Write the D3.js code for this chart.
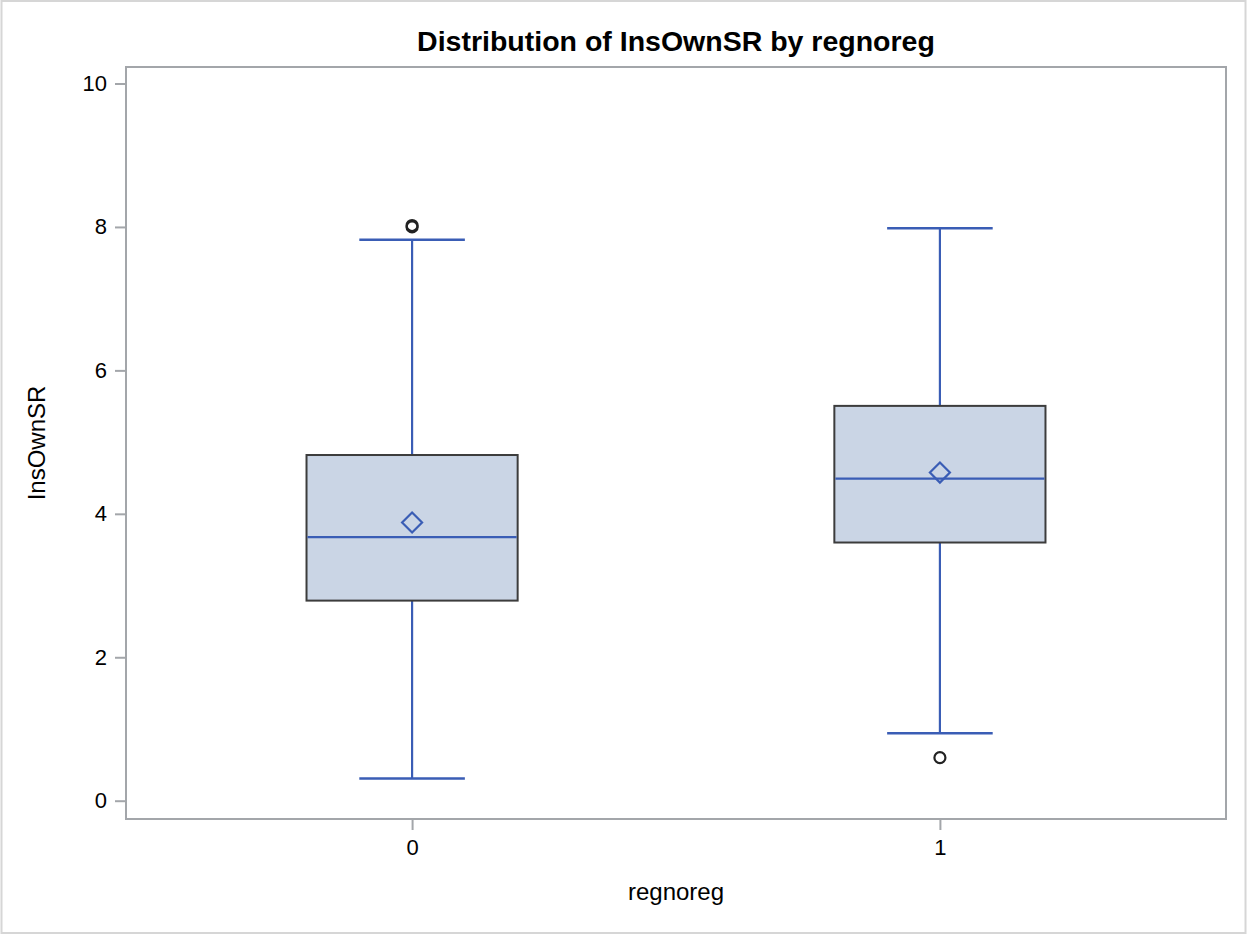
<!DOCTYPE html>
<html>
<head>
<meta charset="utf-8">
<script src="https://cdn.jsdelivr.net/npm/d3@7"></script>
<style>
  body { margin: 0; background: #fff; }
  text { font-family: "Liberation Sans", Arial, sans-serif; fill: #000; }
</style>
</head>
<body>
<script>
// box plot summary per group
const groups = ['0', '1']
const whiskerLow = [0.31, 0.94]
const q1 = [2.79, 3.60]
const median = [3.675, 4.49]
const mean = [3.88, 4.575]
const q3 = [4.82, 5.505]
const whiskerHigh = [7.82, 7.98]
const outliers = [[8.0, 8.02], [0.6]]
const yTicks = [0, 2, 4, 6, 8, 10]

const width = 1247
const height = 934
const margin = {top: 67, right: 21, bottom: 115, left: 126}

const lineBlue = '#3a5db5'
const axisGray = '#a3a6aa'

const rows = groups.map((g, i) => ({
  g, lo: whiskerLow[i], q1: q1[i], med: median[i], mean: mean[i],
  q3: q3[i], hi: whiskerHigh[i], out: outliers[i],
}))

const svg = d3.select('body').append('svg')
  .attr('width', width).attr('height', height)

// outer frame of the picture
svg.append('rect')
  .attr('x', 1.5).attr('y', 1).attr('width', width - 3).attr('height', height - 2)
  .attr('fill', 'none').attr('stroke', '#d6d6d6').attr('stroke-width', 2)

const x = d3.scalePoint()
  .domain(groups)
  .range([margin.left, width - margin.right])
  .padding(0.542)

const y = d3.scaleLinear()
  .domain([-0.255, 10.23])
  .range([height - margin.bottom, margin.top])

const step = x.step()
const boxHalf = step * 0.2
const capHalf = step * 0.1

// axes
const yAxis = svg.append('g')
  .attr('transform', `translate(${margin.left},0)`)
  .call(d3.axisLeft(y).tickValues(yTicks).tickSize(11).tickPadding(8).tickSizeOuter(0))
yAxis.select('.domain').remove()
yAxis.selectAll('line').attr('stroke', axisGray).attr('stroke-width', 2)
yAxis.selectAll('text').style('font-size', '22px').attr('fill', '#000')

const xAxis = svg.append('g')
  .attr('transform', `translate(0,${height - margin.bottom})`)
  .call(d3.axisBottom(x).tickSize(11).tickPadding(9).tickSizeOuter(0))
xAxis.select('.domain').remove()
xAxis.selectAll('line').attr('stroke', axisGray).attr('stroke-width', 2)
xAxis.selectAll('text').style('font-size', '22px').attr('fill', '#000')

// plot frame
svg.append('rect')
  .attr('x', margin.left).attr('y', margin.top)
  .attr('width', width - margin.left - margin.right)
  .attr('height', height - margin.top - margin.bottom)
  .attr('fill', 'none').attr('stroke', axisGray).attr('stroke-width', 2)

const box = svg.selectAll('.box')
  .data(rows)
  .enter()
  .append('g').attr('class', 'box')

// whisker stems
box.append('line')
  .attr('x1', d => x(d.g)).attr('x2', d => x(d.g))
  .attr('y1', d => y(d.hi)).attr('y2', d => y(d.q3))
  .attr('stroke', lineBlue).attr('stroke-width', 2.2)
box.append('line')
  .attr('x1', d => x(d.g)).attr('x2', d => x(d.g))
  .attr('y1', d => y(d.q1)).attr('y2', d => y(d.lo))
  .attr('stroke', lineBlue).attr('stroke-width', 2.2)

// caps
box.selectAll('.cap')
  .data(d => [d.lo, d.hi].map(v => ({g: d.g, v})))
  .enter()
  .append('line')
  .attr('x1', d => x(d.g) - capHalf).attr('x2', d => x(d.g) + capHalf)
  .attr('y1', d => y(d.v)).attr('y2', d => y(d.v))
  .attr('stroke', lineBlue).attr('stroke-width', 2.5)

// box body
box.append('rect')
  .attr('x', d => x(d.g) - boxHalf)
  .attr('y', d => y(d.q3))
  .attr('width', boxHalf * 2)
  .attr('height', d => y(d.q1) - y(d.q3))
  .attr('fill', '#cad5e5')
  .attr('stroke', '#3c3c3c').attr('stroke-width', 2)

// median
box.append('line')
  .attr('x1', d => x(d.g) - boxHalf + 1).attr('x2', d => x(d.g) + boxHalf - 1)
  .attr('y1', d => y(d.med)).attr('y2', d => y(d.med))
  .attr('stroke', lineBlue).attr('stroke-width', 2.2)

// mean diamond
box.append('path')
  .attr('d', d => {
    const cx = x(d.g), cy = y(d.mean)
    return `M${cx},${cy - 10}L${cx + 10},${cy}L${cx},${cy + 10}L${cx - 10},${cy}Z`
  })
  .attr('fill', 'none').attr('stroke', lineBlue).attr('stroke-width', 2.2)

// outliers
box.selectAll('.out')
  .data(d => d.out.map(v => ({g: d.g, v})))
  .enter()
  .append('circle')
  .attr('cx', d => x(d.g)).attr('cy', d => y(d.v))
  .attr('r', 5.5)
  .attr('fill', 'none').attr('stroke', '#222').attr('stroke-width', 2.2)

// labels
svg.append('text')
  .attr('x', (margin.left + width - margin.right) / 2).attr('y', 51)
  .attr('text-anchor', 'middle')
  .style('font-size', '28.5px').style('font-weight', 'bold')
  .text('Distribution of InsOwnSR by regnoreg')

svg.append('text')
  .attr('x', (margin.left + width - margin.right) / 2).attr('y', 900)
  .attr('text-anchor', 'middle')
  .style('font-size', '24px')
  .text('regnoreg')

svg.append('text')
  .attr('transform', `translate(45,${(margin.top + height - margin.bottom) / 2}) rotate(-90)`)
  .attr('text-anchor', 'middle')
  .style('font-size', '24px')
  .text('InsOwnSR')
</script>
</body>
</html>
